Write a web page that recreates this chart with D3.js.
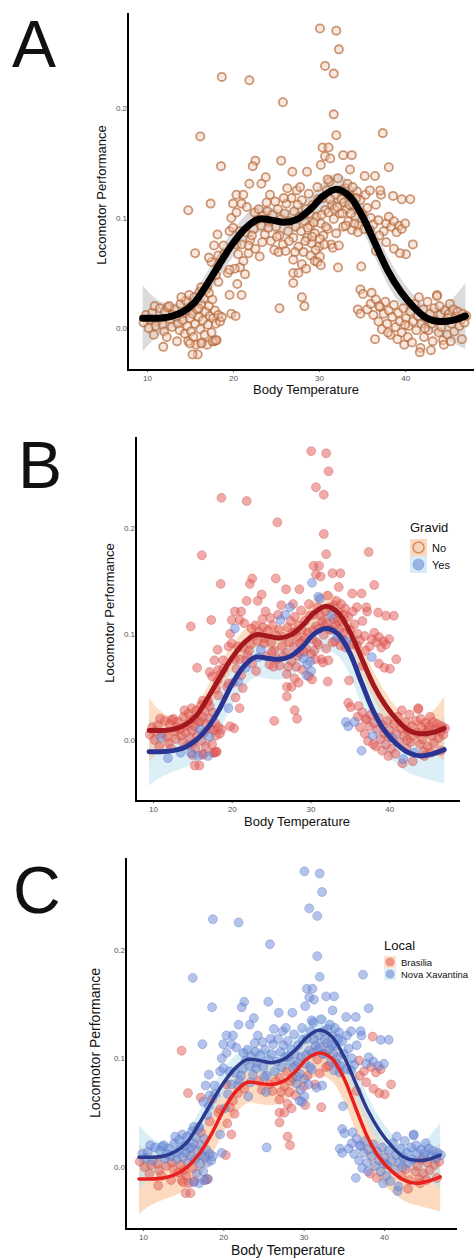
<!DOCTYPE html>
<html><head><meta charset="utf-8">
<script src="https://cdn.jsdelivr.net/npm/d3@7"></script>
<style>body{margin:0;background:#fff}svg{display:block}</style>
</head><body>
<svg id="chart" width="474" height="1260"></svg>
<script>
// ---------- DATA ----------
// [body temperature, locomotor performance, gravid (0 No / 1 Yes), local (0 Nova Xavantina / 1 Brasilia)]
const points = [
[9.6,0.005,0,1],[9.9,0.012,0,0],[10.3,0.008,0,0],[10.6,0.014,0,0],[10.9,0.02,0,0],[11.2,0.006,0,0],[11.5,0.018,0,0],[11.8,0.003,0,1],[12.1,0.015,0,0],[12.4,0.019,0,0],[12.7,0.008,0,0],[12.9,0.001,0,1],[13.2,0.017,0,0],[13.4,0.01,0,0],[13.6,0.004,0,1],[13.8,-0.002,0,1],[13.9,0.022,0,0],[14.1,0.013,0,0],[14.2,0.007,0,0],[14.4,-0.005,0,1],[14.5,0.025,0,0],[14.6,0.016,0,0],[14.7,0.002,0,1],[14.8,-0.012,1,1],[14.9,0.03,0,0],[15.0,0.009,0,0],[15.1,-0.003,0,1],[15.2,0.02,0,0],[15.3,0.013,0,0],[15.4,-0.008,0,1],[15.5,0.028,0,0],[15.6,0.004,0,0],[15.7,-0.015,1,1],[15.8,0.017,0,0],[15.9,-0.024,0,1],[16.0,0.01,1,0],[16.1,0.033,0,0],[16.2,-0.001,0,1],[16.3,0.022,0,0],[16.4,-0.013,0,1],[16.5,0.007,0,0],[16.6,0.027,0,0],[16.7,-0.006,0,0],[16.8,0.015,0,0],[16.9,0.035,0,0],[17.0,-0.015,1,0],[17.1,0.003,1,0],[17.2,0.02,0,0],[17.3,0.011,0,0],[17.5,-0.004,0,0],[17.6,0.026,0,0],[17.7,0.009,0,0],[17.8,-0.012,0,1],[17.9,0.016,0,0],[18.0,0.004,0,0],[18.1,-0.011,0,0],[18.3,0.012,0,0],[18.5,0.006,0,0],[18.7,0.01,0,0],[12.0,-0.003,0,1],[11.0,0.002,1,1],[13.0,0.012,0,0],[14.0,0.028,0,0],[15.0,-0.014,0,1],[16.0,0.018,0,0],[10.2,0.0,0,1],[12.6,0.02,0,0],[11.9,-0.017,1,1],[15.3,-0.024,0,1],[16.3,-0.014,0,0],[17.6,-0.012,0,0],[18.0,-0.011,0,1],[13.5,-0.012,1,1],[12.3,-0.008,0,1],[10.8,-0.006,0,1],
[17.0,0.037,0,0],[17.2,0.032,0,1],[16.3,0.037,0,0],[18.3,0.042,0,1],[18.2,0.056,0,0],[18.6,0.062,0,1],[17.8,0.075,0,0],[18.2,0.085,0,0],[18.3,0.066,0,0],[18.9,0.075,0,0],[19.4,0.05,0,1],[19.6,0.088,0,0],[20.0,0.091,0,0],[19.8,0.1,0,0],[20.0,0.113,0,0],[20.4,0.121,0,0],[21.2,0.121,0,0],[20.4,0.105,1,0],[21.0,0.113,0,0],[21.6,0.11,0,0],[20.8,0.088,0,0],[20.4,0.076,0,1],[20.6,0.067,0,0],[21.2,0.061,0,1],[20.8,0.055,1,1],[21.4,0.049,0,1],[20.2,0.054,0,0],[19.6,0.053,0,1],[21.8,0.068,1,1],[22.0,0.08,0,0],[22.4,0.09,0,0],[21.4,0.087,0,0],[21.8,0.075,0,0],[21.0,0.076,0,0],[19.6,0.03,1,0],[20.5,0.04,0,1],[21.0,0.03,0,1],[18.0,0.048,0,0],[17.5,0.06,0,0],[19.0,0.067,0,0],
[22.5,0.105,0,0],[22.8,0.098,0,0],[23.0,0.108,0,0],[23.3,0.093,0,0],[23.5,0.102,0,0],[23.7,0.085,1,0],[24.0,0.106,0,0],[24.2,0.096,0,0],[24.4,0.079,0,1],[24.6,0.103,0,0],[24.8,0.071,0,1],[25.0,0.092,0,0],[25.2,0.108,0,0],[25.4,0.084,0,0],[25.6,0.099,0,0],[25.8,0.076,0,1],[26.0,0.104,0,0],[26.2,0.113,1,0],[26.4,0.088,0,0],[26.6,0.097,0,0],[26.8,0.118,1,0],[27.0,0.082,0,1],[27.1,0.106,0,0],[27.3,0.092,0,0],[27.4,0.125,1,0],[27.6,0.074,0,1],[27.7,0.101,0,0],[27.9,0.088,0,1],[28.0,0.116,0,0],[28.2,0.069,0,1],[28.3,0.097,0,0],[28.5,0.108,0,0],[28.6,0.082,0,1],[28.8,0.122,0,0],[29.0,0.093,0,0],[29.1,0.077,1,0],[29.3,0.112,0,0],[29.5,0.086,0,0],[29.7,0.101,0,0],[29.8,0.128,0,0],[30.0,0.074,1,1],[30.2,0.095,0,0],[30.4,0.118,0,0],[30.5,0.084,0,1],[30.7,0.107,0,0],[30.9,0.125,0,0],[31.0,0.09,0,0],[31.2,0.133,1,0],[31.4,0.076,0,1],[31.5,0.112,0,0],[31.7,0.099,0,1],[31.9,0.121,0,0],[32.0,0.086,0,1],[32.2,0.136,0,0],[32.4,0.104,0,0],[32.6,0.117,1,0],[32.8,0.092,0,1],[33.0,0.127,0,0],[33.2,0.108,0,0],[33.4,0.097,1,0],[33.6,0.12,0,0],[33.8,0.089,0,0],[34.0,0.112,0,0],[34.2,0.101,0,0],[34.4,0.124,0,0],[34.6,0.093,1,0],[34.8,0.116,0,0],[35.0,0.104,0,0],[35.2,0.09,0,0],[35.4,0.121,0,0],[35.6,0.109,0,0],[36.0,0.1,0,0],[36.3,0.094,0,0],[36.6,0.112,0,0],[36.9,0.098,0,1],[37.2,0.121,0,0],[37.5,0.088,0,1],[37.8,0.095,0,0],[38.1,0.101,0,0],[38.4,0.092,0,1],[38.7,0.097,0,0],[39.0,0.087,0,1],[39.3,0.093,0,0],[39.6,0.09,0,1],[40.0,0.095,0,0],[37.0,0.084,0,1],
[22.2,0.084,0,0],[22.6,0.072,0,1],[23.1,0.065,0,0],[23.9,0.114,0,0],[24.3,0.121,0,0],[24.9,0.115,0,0],[25.3,0.069,0,0],[25.9,0.118,0,0],[26.3,0.127,0,0],[26.5,0.079,0,1],[27.2,0.069,0,1],[27.5,0.112,0,0],[27.8,0.128,0,0],[28.1,0.102,0,0],[28.4,0.079,0,1],[28.7,0.091,0,0],[28.9,0.104,0,0],[29.2,0.083,0,0],[29.4,0.096,0,0],[29.6,0.071,1,0],[29.9,0.117,0,0],[30.1,0.081,0,0],[30.3,0.103,0,0],[30.6,0.076,0,0],[30.8,0.092,0,0],[31.1,0.105,0,0],[31.3,0.117,0,0],[31.6,0.073,0,0],[31.8,0.108,0,0],[32.1,0.11,0,0],[32.3,0.075,0,0],[32.5,0.125,0,0],[32.7,0.104,0,0],[32.9,0.114,0,0],[33.1,0.093,0,1],[33.3,0.131,0,0],[33.5,0.112,0,0],[33.7,0.104,0,0],[33.9,0.128,0,0],[34.1,0.095,0,0],[34.3,0.118,0,0],[34.5,0.087,0,0],[27.0,0.062,0,1],[26.1,0.07,0,1],[25.1,0.083,0,0],[24.1,0.091,0,0],[23.4,0.078,1,0],[28.0,0.058,0,1],[28.5,0.054,0,1],[29.0,0.066,0,1],[29.5,0.061,1,0],[30.1,0.065,1,0],[29.8,0.06,0,0],
[30.1,0.272,0,0],[32.0,0.27,0,0],[32.3,0.253,0,0],[30.7,0.238,0,0],[31.7,0.231,0,0],[18.7,0.228,0,0],[21.9,0.225,0,0],[25.8,0.205,0,0],[31.7,0.194,0,0],[32.0,0.175,0,0],[16.2,0.174,0,0],[37.4,0.177,0,0],[18.6,0.147,0,0],[38.1,0.146,0,0],[30.4,0.164,0,0],[31.1,0.164,0,0],[30.7,0.156,0,0],[31.3,0.154,0,0],[32.8,0.157,0,0],[33.8,0.157,0,0],[30.2,0.148,1,0],[22.6,0.152,0,0],[22.3,0.147,0,0],[25.6,0.152,0,0],[23.8,0.137,0,0],[21.9,0.131,0,0],[23.3,0.131,0,0],[26.9,0.142,0,0],[28.6,0.142,0,0],[33.6,0.144,0,0],[35.3,0.138,0,0],[36.5,0.138,0,0],[35.9,0.125,0,0],[37.1,0.125,0,0],[38.6,0.12,0,1],[39.6,0.117,0,0],[40.6,0.117,0,0],[14.8,0.107,0,1],[17.4,0.113,0,0],[15.6,0.068,0,1],[17.2,0.064,0,1],[34.9,0.056,0,0],[30.2,0.057,0,1],[27.0,0.05,0,1],[27.6,0.05,0,1],[27.0,0.041,0,1],[25.4,0.018,0,0],[19.8,0.013,0,0],[20.3,0.011,0,1],[34.8,0.035,0,0],[35.1,0.031,0,0],[36.1,0.032,0,0],[34.5,0.017,1,0],[34.8,0.013,1,0],[43.7,0.03,0,0],[40.9,0.076,0,1],[40.1,0.067,0,1],[35.9,0.089,0,0],[31.0,0.135,1,0],[28.0,0.028,0,1],[28.3,0.02,0,1],[36.6,0.07,0,1],[37.8,0.078,1,1],[38.7,0.072,0,1],[39.4,0.068,0,1],[32.2,0.055,0,1],
[35.6,0.017,1,0],[36.0,0.022,0,0],[36.3,0.012,0,0],[36.6,0.026,0,0],[36.9,0.006,0,0],[37.1,0.019,0,0],[37.3,-0.001,0,0],[37.5,0.013,0,0],[37.7,0.024,0,0],[37.9,0.004,1,0],[38.1,0.016,0,0],[38.3,-0.006,0,1],[38.5,0.01,0,0],[38.7,0.021,0,0],[38.9,0.001,0,0],[39.1,-0.01,0,1],[39.2,0.014,0,0],[39.4,0.006,0,0],[39.6,-0.004,0,0],[39.8,0.018,0,0],[39.9,-0.015,0,0],[40.1,0.009,0,0],[40.3,-0.008,0,0],[40.4,0.002,1,0],[40.6,0.015,0,0],[40.8,-0.013,0,0],[40.9,0.006,0,0],[41.1,0.022,0,0],[41.3,-0.002,0,0],[41.5,0.011,0,0],[41.6,0.028,0,0],[41.8,-0.018,1,0],[41.9,0.004,0,0],[42.1,0.017,0,0],[42.2,-0.008,0,1],[42.4,0.009,0,0],[42.6,0.024,0,0],[42.7,-0.002,0,1],[42.9,0.013,0,0],[43.1,0.004,0,0],[43.2,-0.012,1,1],[43.4,0.018,0,0],[43.6,0.007,0,0],[43.7,0.029,0,0],[43.9,-0.004,0,1],[44.1,0.012,0,0],[44.2,0.001,0,1],[44.4,-0.011,0,1],[44.6,0.016,0,0],[44.7,0.007,0,1],[44.9,-0.006,0,1],[45.1,0.013,0,0],[45.2,0.022,0,0],[45.4,0.004,0,1],[45.6,0.017,0,0],[45.7,-0.003,0,1],[45.9,0.01,0,0],[46.1,0.015,0,0],[46.3,0.002,0,1],[46.5,0.008,0,0],[46.7,0.013,0,0],[46.9,0.005,0,1],[47.1,0.011,0,0],[41.7,-0.022,0,0],[42.3,0.0,0,0],[44.0,0.02,0,0],[45.0,0.009,0,0],[38.0,-0.004,0,0],[37.0,0.02,0,0],[40.0,0.003,0,0],[36.5,-0.01,1,0],[44.5,-0.015,0,1],[45.3,-0.012,0,1],[46.6,-0.01,0,1],[43.0,-0.02,0,1]
];

// smoothed fits (loess-like)
const smoothX  = [9.5,11,12.5,14,15.5,17,18.5,20,21.5,23,24.5,26,27.5,29,30.5,32,33.5,35,36.5,38,39.5,41,42.5,44,45.5,47];
const fitHigh  = [0.009,0.009,0.010,0.014,0.023,0.040,0.059,0.077,0.091,0.099,0.098,0.096,0.099,0.108,0.120,0.126,0.120,0.102,0.077,0.052,0.033,0.019,0.009,0.006,0.007,0.011];
const fitLow   = [-0.011,-0.011,-0.010,-0.007,0.000,0.012,0.030,0.052,0.069,0.078,0.077,0.076,0.079,0.088,0.100,0.105,0.100,0.082,0.054,0.027,0.008,-0.004,-0.012,-0.015,-0.013,-0.009];
const seNarrow = [0.030,0.018,0.012,0.010,0.010,0.011,0.012,0.012,0.012,0.012,0.011,0.011,0.011,0.012,0.013,0.014,0.013,0.013,0.013,0.013,0.012,0.011,0.011,0.013,0.020,0.030];
const seWide   = [0.032,0.024,0.020,0.019,0.019,0.020,0.020,0.020,0.020,0.019,0.019,0.019,0.019,0.019,0.020,0.021,0.021,0.021,0.021,0.021,0.020,0.019,0.019,0.020,0.025,0.032];

const xTicks = [10, 20, 30, 40];
const yTicks = [0, 0.1, 0.2];
const yTickLabels = ["0.0", "0.1", "0.2"];
const gravidLevels = ["No", "Yes"];
const localLevels = ["Brasilia", "Nova Xavantina"];

// ---------- DRAWING ----------
const svg = d3.select("#chart");
const FONT = "'Liberation Sans', Arial, Helvetica, sans-serif";

function panel(cfg) {
  const x = d3.scaleLinear().domain(cfg.xDom).range(cfg.xR);
  const y = d3.scaleLinear().domain(cfg.yDom).range(cfg.yR);
  const g = svg.append("g");
  const fit = (arr) => smoothX.map((t, i) => ({x: t, y: arr[i]}));
  const band = (arr, se) => smoothX.map((t, i) => ({x: t, lo: arr[i] - se[i], hi: arr[i] + se[i]}));
  const area = d3.area().x(d => x(d.x)).y0(d => y(d.lo)).y1(d => y(d.hi)).curve(d3.curveCatmullRom);
  const line = d3.line().x(d => x(d.x)).y(d => y(d.y)).curve(d3.curveCatmullRom);

  cfg.fits.forEach(f => {
    g.append("path").datum(band(f.values, f.se)).attr("d", area)
      .attr("fill", f.bandFill).attr("fill-opacity", f.bandOpacity);
  });
  const pts = cfg.order ? points.slice().sort(cfg.order) : points;
  g.append("g").selectAll("circle").data(pts).join("circle")
    .attr("cx", d => x(d[0])).attr("cy", d => y(d[1])).attr("r", cfg.r)
    .attr("fill", d => cfg.pointFill(d)).attr("stroke", d => cfg.pointStroke(d))
    .attr("stroke-width", cfg.sw);
  cfg.fits.forEach(f => {
    g.append("path").datum(fit(f.values)).attr("d", line)
      .attr("fill", "none").attr("stroke", f.color).attr("stroke-width", f.width)
      .attr("stroke-linecap", "round");
  });

  const xa = g.append("g").attr("transform", `translate(0,${cfg.yR[0]})`)
    .call(d3.axisBottom(x).tickValues(xTicks).tickSize(2).tickPadding(3));
  const ya = g.append("g").attr("transform", `translate(${cfg.xR[0]},0)`)
    .call(d3.axisLeft(y).tickValues(yTicks).tickFormat((d, i) => yTickLabels[i]).tickSize(0).tickPadding(1));
  [xa, ya].forEach(a => {
    a.select(".domain").remove();
    a.selectAll("line").attr("stroke", "#444");
    a.selectAll("text").attr("fill", "#555").attr("font-size", 8).attr("font-family", FONT);
  });
  g.append("line").attr("x1", cfg.xR[0]).attr("x2", cfg.xR[0]).attr("y1", cfg.yR[1]).attr("y2", cfg.yR[0] + 1)
    .attr("stroke", "#000").attr("stroke-width", 2);
  g.append("line").attr("x1", cfg.xR[0] - 1).attr("x2", cfg.xR[1]).attr("y1", cfg.yR[0]).attr("y2", cfg.yR[0])
    .attr("stroke", "#000").attr("stroke-width", 2);

  g.append("text").attr("x", cfg.xTitle[0]).attr("y", cfg.xTitle[1]).attr("text-anchor", "middle")
    .attr("font-family", FONT).attr("font-size", cfg.titleSize).attr("fill", "#111").text("Body Temperature");
  g.append("text").attr("transform", `translate(${cfg.yTitle[0]},${cfg.yTitle[1]}) rotate(-90)`)
    .attr("text-anchor", "middle").attr("font-family", FONT).attr("font-size", cfg.titleSize)
    .attr("fill", "#111").text("Locomotor Performance");
  g.append("text").attr("x", cfg.letter[1]).attr("y", cfg.letter[2]).attr("font-family", FONT)
    .attr("font-size", 66).attr("fill", "#111").text(cfg.letter[0]);
  return g;
}

// Panel A
panel({
  xDom: [7.8, 48], xR: [128, 474], yDom: [-0.038, 0.286], yR: [370, 13],
  r: 4.1, sw: 1.8,
  pointFill: () => "rgba(242,205,185,0.45)", pointStroke: () => "rgba(180,100,50,0.65)",
  fits: [{values: fitHigh, se: seNarrow, bandFill: "#d2d2d2", bandOpacity: 0.8, color: "#000", width: 7}],
  xTitle: [306, 394], yTitle: [106, 195], titleSize: 13, letter: ["A", 12, 67]
});

// Panel B
panel({
  xDom: [7.84, 49.0], xR: [136, 460], yDom: [-0.0574, 0.2853], yR: [801, 437],
  r: 4.5, sw: 0.8,
  order: (a, b) => a[2] - b[2],
  pointFill: d => d[2] ? "rgba(105,135,215,0.5)" : "rgba(226,88,84,0.5)",
  pointStroke: d => d[2] ? "rgba(80,105,190,0.4)" : "rgba(200,60,60,0.4)",
  fits: [
    {values: fitLow, se: seWide, bandFill: "#bfe2f0", bandOpacity: 0.55, color: "#2a3593", width: 5},
    {values: fitHigh, se: seNarrow, bandFill: "#f9c296", bandOpacity: 0.55, color: "#a3181f", width: 5}
  ],
  xTitle: [297, 826], yTitle: [114, 613], titleSize: 13, letter: ["B", 18, 488]
});

// Panel C
panel({
  xDom: [7.88, 49.1], xR: [126, 457], yDom: [-0.057, 0.2843], yR: [1229, 858],
  r: 4.5, sw: 0.8,
  order: (a, b) => b[3] - a[3],
  pointFill: d => d[3] ? "rgba(226,95,85,0.5)" : "rgba(105,135,215,0.5)",
  pointStroke: d => d[3] ? "rgba(200,60,60,0.4)" : "rgba(80,105,190,0.4)",
  fits: [
    {values: fitLow, se: seWide, bandFill: "#f9c296", bandOpacity: 0.6, color: "#e8211f", width: 3.5},
    {values: fitHigh, se: seNarrow, bandFill: "#bfe2f0", bandOpacity: 0.6, color: "#2b3a8c", width: 3.5}
  ],
  xTitle: [288, 1255], yTitle: [100, 1043], titleSize: 14, letter: ["C", 13, 913]
});

// Legend B
const lb = svg.append("g");
lb.append("text").attr("x", 410).attr("y", 532).attr("font-family", FONT).attr("font-size", 13).attr("fill", "#111").text("Gravid");
gravidLevels.forEach((lv, i) => {
  const yy = 539 + i * 17;
  lb.append("rect").attr("x", 410).attr("y", yy).attr("width", 17).attr("height", 17)
    .attr("fill", i ? "#d6ecf6" : "#fbd9bd");
  lb.append("circle").attr("cx", 418.5).attr("cy", yy + 8.5).attr("r", 5.5)
    .attr("fill", i ? "rgba(105,135,215,0.55)" : "rgba(242,205,185,0.5)")
    .attr("stroke", i ? "rgba(80,105,190,0.4)" : "rgba(200,110,70,0.7)").attr("stroke-width", i ? 0.8 : 1.5);
  lb.append("text").attr("x", 432).attr("y", yy + 12.5).attr("font-family", FONT).attr("font-size", 11)
    .attr("fill", "#111").text(lv);
});

// Legend C
const lc = svg.append("g");
lc.append("text").attr("x", 384).attr("y", 950).attr("font-family", FONT).attr("font-size", 13).attr("fill", "#111").text("Local");
localLevels.forEach((lv, i) => {
  const yy = 956 + i * 12;
  lc.append("rect").attr("x", 384).attr("y", yy).attr("width", 12).attr("height", 12)
    .attr("fill", i ? "#e3f1f8" : "#fde3cf");
  lc.append("circle").attr("cx", 390).attr("cy", yy + 6).attr("r", 4.6)
    .attr("fill", i ? "rgba(105,135,215,0.6)" : "rgba(226,95,85,0.6)");
  lc.append("text").attr("x", 401).attr("y", yy + 9.5).attr("font-family", FONT).attr("font-size", 9.5)
    .attr("fill", "#111").text(lv);
});
</script>
</body></html>
